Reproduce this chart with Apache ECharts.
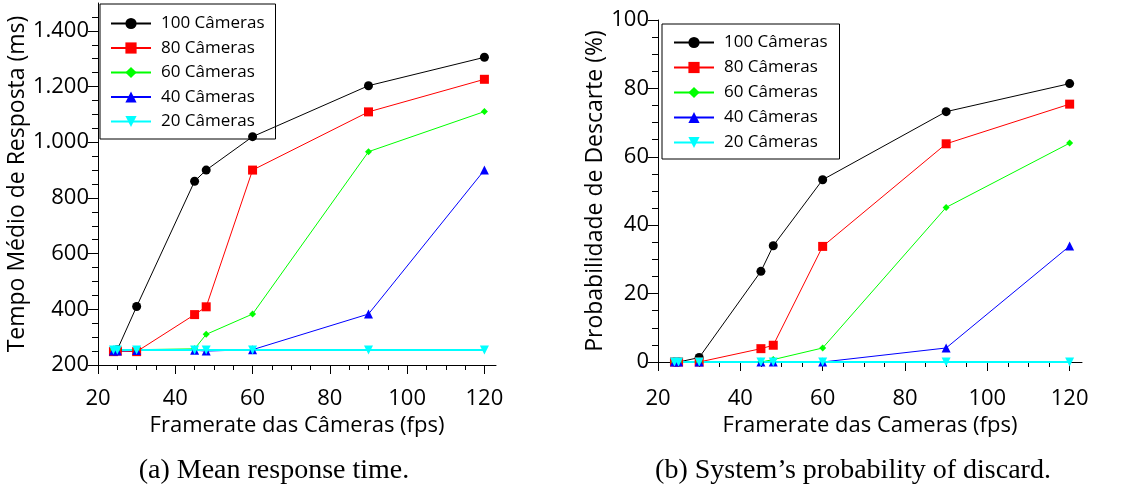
<!DOCTYPE html>
<html>
<head>
<meta charset="utf-8">
<script src="https://cdn.jsdelivr.net/npm/echarts@6/dist/echarts.min.js"></script>
<style>
  html, body { margin: 0; padding: 0; background: #fff; }
  #myChart { width: 1121px; height: 492px; }
</style>
</head>
<body>
<div id="myChart"></div>
<script>
// framerates (fps)
const fps = [24, 25, 30, 45, 48, 60, 90, 120];
const seriesNames = ["100 Câmeras", "80 Câmeras", "60 Câmeras", "40 Câmeras", "20 Câmeras"];

// tempo medio de resposta (ms)
const tempo100 = [250, 255, 410, 860, 900, 1020, 1203, 1305];
const tempo80 = [248, 250, 248, 381, 409, 900, 1109, 1226];
const tempo60 = [255, 255, 255, 258, 310, 383, 966, 1110];
const tempo40 = [250, 250, 252, 253, 250, 255, 383, 900];
const tempo20 = [254, 254, 254, 254, 254, 254, 254, 254];

// probabilidade de descarte (%)
const descarte100 = [0, 0, 1.3, 26.5, 34, 53.3, 73.2, 81.4];
const descarte80 = [0, 0, 0, 3.9, 4.9, 33.8, 63.8, 75.4];
const descarte60 = [0, 0, 0, 0, 0.7, 4.1, 45.2, 64];
const descarte40 = [0, 0, 0, 0, 0, 0, 4.1, 33.9];
const descarte20 = [0, 0, 0, 0, 0, 0, 0, 0];

// tick labels
const xTicks = [20, 40, 60, 80, 100, 120];
const yTicksTempo = [200, 400, 600, 800, 1000, 1200, 1400];
const yTicksDescarte = [0, 20, 40, 60, 80, 100];

const captionA = "(a) Mean response time.";
const captionB = "(b) System\u2019s probability of discard.";

const FONT = "Open Sans";
const colors = ["#000000", "#ff0000", "#00ff00", "#0000ff", "#00ffff"];
const symbols = ["circle", "rect", "diamond", "triangle", "triangle"];
const symbolSizes = [9, 9, 7, 9, 9];
const rotates = [0, 0, 0, 0, 180];

function pairs(ys) {
  return fps.map((x, i) => [x, ys[i]]);
}

function makeSeries(data, idx) {
  return data.map((ys, i) => ({
    name: seriesNames[i],
    type: "line",
    xAxisIndex: idx,
    yAxisIndex: idx,
    data: pairs(ys),
    symbol: symbols[i],
    symbolSize: symbolSizes[i],
    symbolRotate: rotates[i],
    showAllSymbol: true,
    clip: false,
    animation: false,
    itemStyle: { color: colors[i] },
    lineStyle: { color: colors[i], width: i === 4 ? 2 : 1 },
  }));
}

function xAxisDef(idx, name, offset) {
  return {
    type: "value",
    gridIndex: idx,
    min: 20,
    max: 123,
    interval: 20,
    offset: offset,
    name: name,
    nameLocation: "middle",
    nameGap: 48,
    nameTextStyle: { fontFamily: FONT, fontSize: 22, color: "#000" },
    axisLine: { lineStyle: { color: "#000", width: 1 } },
    axisTick: { length: 9, lineStyle: { color: "#000" }, customValues: xTicks },
    minorTick: { show: true, splitNumber: 4, length: 5, lineStyle: { color: "#000" } },
    axisLabel: { customValues: xTicks, margin: 23, fontFamily: FONT, fontSize: 22, color: "#000" },
    splitLine: { show: false },
  };
}

function yAxisDef(idx, name, min, max, ticks, gap, fmt) {
  return {
    type: "value",
    gridIndex: idx,
    min: min,
    max: max,
    interval: ticks[1] - ticks[0],
    name: name,
    nameLocation: "middle",
    nameGap: gap,
    nameTextStyle: { fontFamily: FONT, fontSize: 23, color: "#000" },
    axisLine: { show: true, lineStyle: { color: "#000", width: 1 } },
    axisTick: { show: true, length: 10, lineStyle: { color: "#000" }, customValues: ticks },
    minorTick: { show: true, splitNumber: 4, length: 6, lineStyle: { color: "#000" } },
    axisLabel: { customValues: ticks, margin: 9, fontFamily: FONT, fontSize: 22, color: "#000", formatter: fmt },
    splitLine: { show: false },
  };
}

function legendDef(left, top, pad, gap) {
  return {
    data: seriesNames,
    orient: "vertical",
    left: left,
    top: top,
    padding: pad,
    itemGap: gap,
    itemWidth: 40,
    itemHeight: 14,
    borderColor: "#000",
    borderWidth: 1,
    textStyle: { fontFamily: FONT, fontSize: 17, color: "#000", padding: [0, 0, 0, 5] },
  };
}

const milhar = (v) => String(v).replace(/\B(?=(\d{3})+(?!\d))/g, ".");

let myChart = echarts.init(document.getElementById("myChart"));
myChart.setOption({
  backgroundColor: "#fff",
  animation: false,
  grid: [
    { left: 98, top: 3, width: 398, height: 362 },
    { left: 658, top: 20, width: 424, height: 342 },
  ],
  xAxis: [
    xAxisDef(0, "Framerate das Câmeras (fps)", 0),
    xAxisDef(1, "Framerate das Cameras (fps)", 3),
  ],
  yAxis: [
    yAxisDef(0, "Tempo Médio de Resposta (ms)", 200, 1500, yTicksTempo, 66, milhar),
    yAxisDef(1, "Probabilidade de Descarte (%)", 0, 100, yTicksDescarte, 51, null),
  ],
  legend: [
    legendDef(100, 4, [11, 11, 9, 10], 7.5),
    legendDef(662, 24, [10, 12, 8, 11], 8),
  ],
  series: makeSeries([tempo100, tempo80, tempo60, tempo40, tempo20], 0)
    .concat(makeSeries([descarte100, descarte80, descarte60, descarte40, descarte20], 1)),
  graphic: [
    {
      type: "text",
      x: 274,
      y: 471,
      style: { text: captionA, align: "center", verticalAlign: "middle", font: '28px "Liberation Serif"', fill: "#000" },
    },
    {
      type: "text",
      x: 853,
      y: 471,
      style: { text: captionB, align: "center", verticalAlign: "middle", font: '28px "Liberation Serif"', fill: "#000" },
    },
  ],
});
</script>
</body>
</html>
